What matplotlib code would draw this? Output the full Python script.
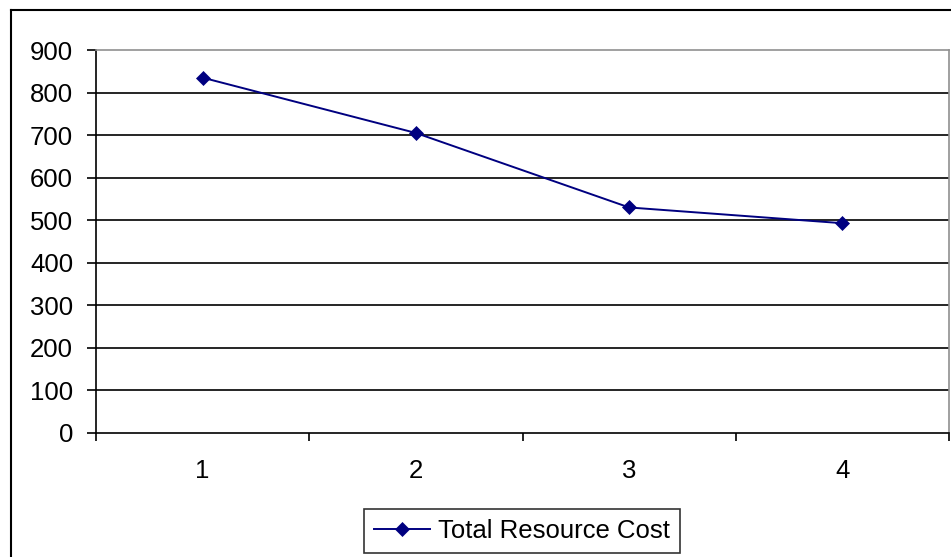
#!/usr/bin/env python3
"""Total resource cost per iteration, drawn as a simple line chart."""

import matplotlib.pyplot as plt
from matplotlib.lines import Line2D

categories = [1, 2, 3, 4]
total_cost = [835, 705, 530, 493]
y_ticks = list(range(0, 1000, 100))

W, H, DPI = 951, 557, 100
FONT = "Liberation Sans"
FS = 18.5

fig = plt.figure(figsize=(W / DPI, H / DPI), dpi=DPI)
fig.patch.set_facecolor("white")

# plot area in pixel terms: x 96..949, y 50..433
ax = fig.add_axes([96 / W, 1 - 433 / H, (949 - 96) / W, (433 - 50) / H])

ax.plot(categories, total_cost, color="#000080", linewidth=1.4,
        marker="D", markersize=7, markeredgewidth=0.5,
        markerfacecolor="#000080", markeredgecolor="#000080",
        label="Total Resource Cost", zorder=3)

ax.set_xlim(0.5, 4.5)
ax.set_ylim(0, 900)
ax.set_yticks(y_ticks)
ax.set_xticks(categories)
ax.set_xticks([0.5, 1.5, 2.5, 3.5, 4.5], minor=True)

for v in y_ticks[1:-1]:
    ax.axhline(v, color="black", linewidth=1.2, zorder=1)

ax.spines["left"].set_color("black")
ax.spines["bottom"].set_color("black")
ax.spines["left"].set_linewidth(1.2)
ax.spines["bottom"].set_linewidth(1.2)
ax.spines["top"].set_color("#909090")
ax.spines["right"].set_color("#909090")
ax.spines["top"].set_linewidth(1.2)
ax.spines["right"].set_linewidth(1.2)

ax.tick_params(axis="y", direction="out", length=6.5, width=1.2, pad=10,
               labelsize=FS, colors="black")
ax.tick_params(axis="x", which="major", length=0, pad=19, labelsize=FS)
ax.tick_params(axis="x", which="minor", direction="out", length=6, width=1.2)
for lbl in ax.get_xticklabels() + ax.get_yticklabels():
    lbl.set_fontfamily(FONT)

# outer chart frame (runs off the right and bottom edges)
fig.add_artist(Line2D([11 / W, 1.0], [1 - 10 / H, 1 - 10 / H],
                      transform=fig.transFigure, color="black", linewidth=1.5))
fig.add_artist(Line2D([11 / W, 11 / W], [0.0, 1 - 10 / H],
                      transform=fig.transFigure, color="black", linewidth=1.5))

leg = fig.legend(loc="center", bbox_to_anchor=(522 / W, 1 - 531 / H),
                 frameon=True, fancybox=False, edgecolor="black",
                 prop={"family": FONT, "size": FS}, handlelength=2.2,
                 handletextpad=0.3, borderpad=0.4, borderaxespad=0)
leg.get_frame().set_linewidth(1.2)

fig.savefig("out.png", dpi=DPI)
